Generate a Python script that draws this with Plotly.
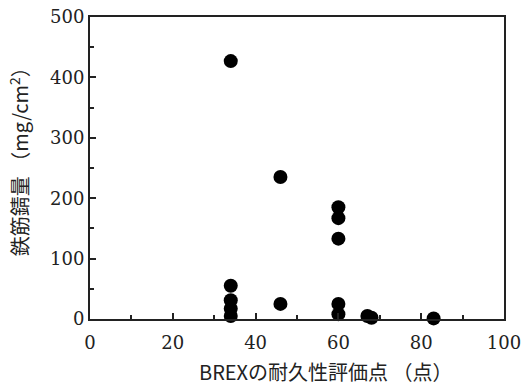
import plotly.graph_objects as go

brex_score = [34, 34, 34, 34, 34, 46, 46, 60, 60, 60, 60, 60, 67, 68, 83]
rust_amount = [427, 55, 31, 17, 5, 235, 25, 185, 167, 133, 25, 8, 5, 2, 1]

x_ticks = [0, 20, 40, 60, 80, 100]
y_ticks = [0, 100, 200, 300, 400, 500]

x_title = "BREXの耐久性評価点 （点）"
y_title = "鉄筋錆量 （mg/cm<sup>2</sup>）"

fig = go.Figure()
fig.add_trace(go.Scatter(
    x=brex_score, y=rust_amount, mode="markers",
    marker=dict(size=14, color="black"),
    cliponaxis=False, showlegend=False,
))

tickfont = dict(family="DejaVu Serif", size=18, color="#222")
titlefont = dict(family="Noto Sans CJK JP", size=20, color="#222")

fig.update_layout(
    width=522, height=387,
    margin=dict(l=90, r=18, t=17, b=68, autoexpand=False),
    paper_bgcolor="white", plot_bgcolor="white",
    xaxis=dict(
        range=[0, 100], tickvals=x_ticks, ticktext=[str(v) for v in x_ticks],
        ticks="inside", ticklen=6, tickwidth=1.5, tickcolor="#222",
        minor=dict(dtick=10, ticks="inside", ticklen=4, tickcolor="#222"),
        showline=True, linecolor="#222", linewidth=2, mirror=True,
        showgrid=False, zeroline=False, tickfont=tickfont,
        ticklabelstandoff=6, automargin=False,
    ),
    yaxis=dict(
        range=[0, 500], tickvals=y_ticks, ticktext=[str(v) for v in y_ticks],
        ticks="inside", ticklen=6, tickwidth=1.5, tickcolor="#222",
        minor=dict(dtick=50, ticks="inside", ticklen=4, tickcolor="#222"),
        showline=True, linecolor="#222", linewidth=2, mirror=True,
        showgrid=False, zeroline=False, tickfont=tickfont,
        automargin=False,
    ),
    annotations=[
        dict(text=x_title, xref="paper", yref="paper", x=0.57, y=0,
             xanchor="center", yanchor="middle", yshift=-52,
             showarrow=False, font=titlefont),
        dict(text=y_title, xref="paper", yref="paper", x=0, y=0.536,
             xanchor="center", yanchor="middle", xshift=-71, textangle=-90,
             showarrow=False, font=titlefont),
    ],
)

fig.write_html("out.html")
